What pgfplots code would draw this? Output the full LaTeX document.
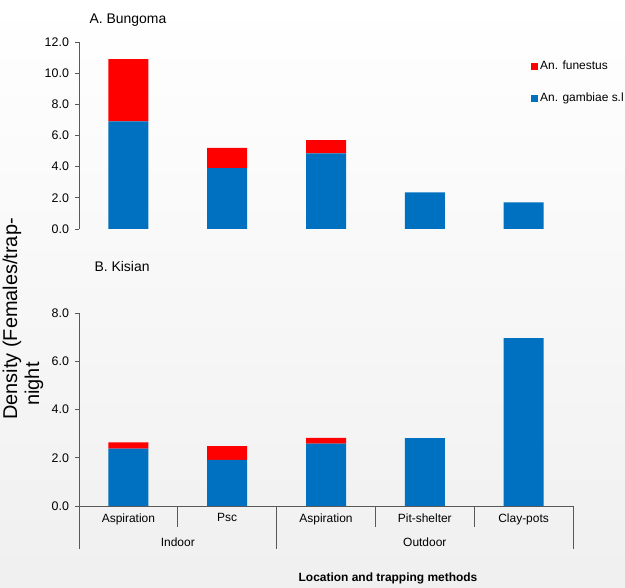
\documentclass[border=0pt]{standalone}
\usepackage{fontspec}
\setmainfont{Liberation Sans}
\usepackage{pgfplots}
\usepackage{pgfplotstable}
\pgfplotsset{compat=1.18}

\definecolor{gamb}{HTML}{0070C0}
\definecolor{fun}{HTML}{FF0000}
\definecolor{axgray}{HTML}{595959}

% densities (females/trap-night)
\pgfplotstableread{
x gamb fun
0 6.90 4.00
1 3.90 1.30
2 4.85 0.85
3 2.35 0
4 1.71 0
}\bungoma
\pgfplotstableread{
x gamb fun
0 2.38 0.26
1 1.91 0.57
2 2.59 0.23
3 2.81 0
4 6.96 0
}\kisian

\pgfplotsset{
  panel/.style={
    scale only axis, width=494bp,
    xmin=-0.5, xmax=4.5, ymin=0,
    ybar stacked, bar width=40bp,
    clip=false,
    axis y line*=left,
    axis line style={axgray, line width=0.7pt},
    tick align=outside, major tick length=4bp,
    ytick style={axgray, line width=0.7pt},
    y tick label style={font=\fontsize{12.5}{14}\selectfont, xshift=-2.5bp,
      /pgf/number format/.cd, fixed, fixed zerofill, precision=1,
      assume math mode=true},
    legend image code/.code={\fill[##1] (0bp,-3.5bp) rectangle (7bp,3.5bp);},
  },
}

\begin{document}
\begin{tikzpicture}
\shade[top color=white, bottom color=black!6] (0bp,0bp) rectangle (625bp,588bp);
\useasboundingbox (0bp,0bp) rectangle (625bp,588bp);

% A. Bungoma
\begin{axis}[panel, height=187bp, at={(79bp,359bp)}, anchor=south west,
  ymax=12, ytick={0,2,...,12}, axis x line=none,
  reverse legend,
  legend style={at={(0.909,0.92)}, anchor=north west, draw=none, fill=none,
    font=\fontsize{12}{14}\selectfont, row sep=18bp,
    /tikz/every even column/.append style={column sep=2bp}},
  legend cell align=left]
\addplot[fill=gamb, draw=none] table[x=x, y=gamb] {\bungoma};
\addplot[fill=fun, draw=none] table[x=x, y=fun] {\bungoma};
\legend{An. gambiae s.l, An. funestus}
\end{axis}

% B. Kisian
\begin{axis}[panel, height=193bp, at={(79bp,82bp)}, anchor=south west,
  ymax=8, ytick={0,2,...,8},
  axis x line*=bottom,
  xtick={0,...,4}, x tick style={draw=none},
  xticklabels={Aspiration, Psc, Aspiration, Pit-shelter, Clay-pots},
  x tick label style={font=\fontsize{12}{14}\selectfont}]
\addplot[fill=gamb, draw=none] table[x=x, y=gamb] {\kisian};
\addplot[fill=fun, draw=none] table[x=x, y=fun] {\kisian};
% category separators
\draw[axgray, line width=0.7pt] (axis cs:0.5,0) -- ++(0bp,-21bp);
\draw[axgray, line width=0.7pt] (axis cs:2.5,0) -- ++(0bp,-21bp);
\draw[axgray, line width=0.7pt] (axis cs:3.5,0) -- ++(0bp,-21bp);
\draw[axgray, line width=0.7pt] (axis cs:-0.5,0) -- ++(0bp,-43bp);
\draw[axgray, line width=0.7pt] (axis cs:1.5,0) -- ++(0bp,-43bp);
\draw[axgray, line width=0.7pt] (axis cs:4.5,0) -- ++(0bp,-43bp);
\node[font=\fontsize{12}{14}\selectfont] at ([yshift=-36bp]axis cs:0.5,0) {Indoor};
\node[font=\fontsize{12}{14}\selectfont] at ([yshift=-36bp]axis cs:3,0) {Outdoor};
\end{axis}

\node[anchor=west, font=\fontsize{14}{16}\selectfont] at (86bp,568bp) {A. Bungoma};
\node[anchor=west, font=\fontsize{14}{16}\selectfont] at (91bp,321bp) {B. Kisian};
\node[rotate=90, font=\fontsize{20}{24}\selectfont] at (12bp,269bp) {Density (Females/trap-};
\node[rotate=90, font=\fontsize{20}{24}\selectfont] at (34bp,204bp) {night};
\node[font=\bfseries\fontsize{12}{14}\selectfont] at (388bp,10bp) {Location and trapping methods};
\end{tikzpicture}
\end{document}
